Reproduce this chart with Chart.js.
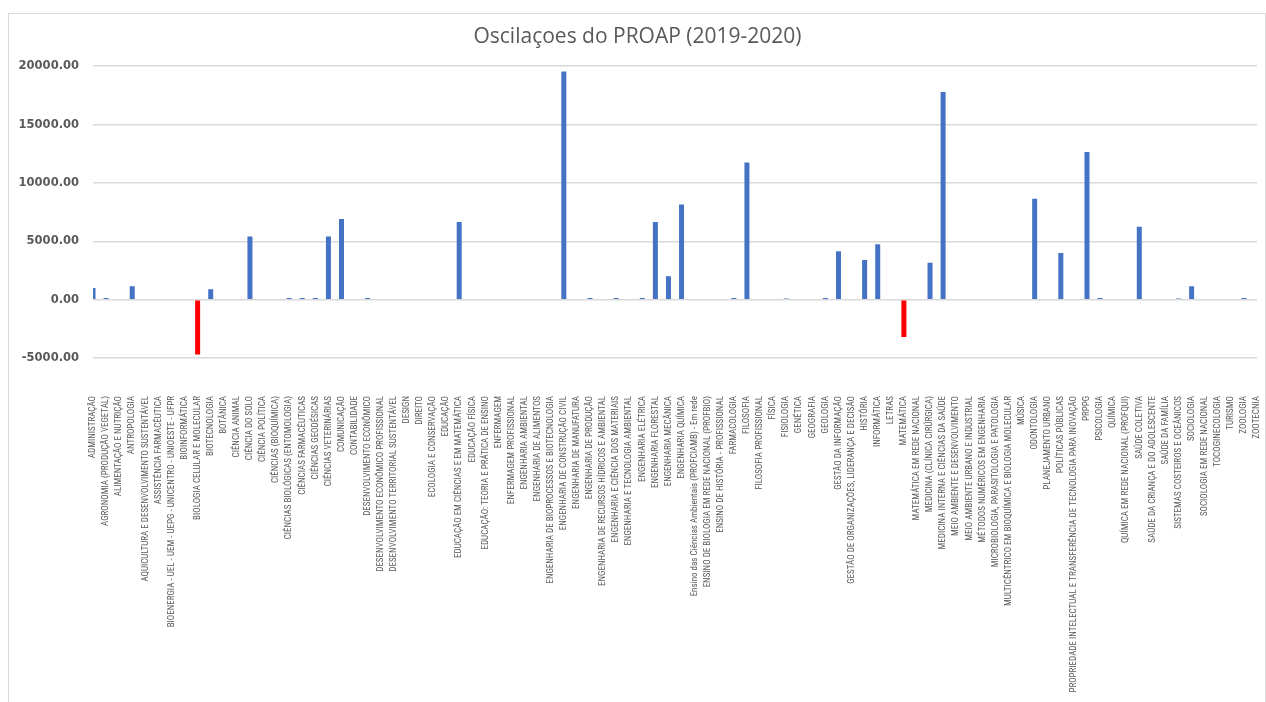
<!DOCTYPE html>
<html lang="pt">
<head>
    <meta charset="UTF-8">
    <title>Oscilaçoes do PROAP (2019-2020)</title>
    <script src="https://cdn.jsdelivr.net/npm/chart.js@4.4.1/dist/chart.umd.min.js"></script>
    <style>
        html, body { margin: 0; padding: 0; background: #fff; }
        .frame { position: absolute; left: 8px; top: 13px; width: 1256px; height: 700px; border: 1px solid #d9d9d9; }
        .container { position: absolute; left: 9px; top: 14px; width: 1255px; height: 688px; }
    </style>
</head>
<body>
<div class="frame"></div>
<div class="container">
    <canvas id="myChart"></canvas>
</div>
<script>
    var programas = [
        'ADMINISTRAÇÃO', 'AGRONOMIA (PRODUÇÃO VEGETAL)', 'ALIMENTAÇÃO E NUTRIÇÃO', 'ANTROPOLOGIA',
        'AQUICULTURA E DESENVOLVIMENTO SUSTENTÁVEL', 'ASSISTÊNCIA FARMACÊUTICA',
        'BIOENERGIA - UEL - UEM - UEPG - UNICENTRO - UNIOESTE - UFPR', 'BIOINFORMÁTICA',
        'BIOLOGIA CELULAR E MOLECULAR', 'BIOTECNOLOGIA', 'BOTÂNICA', 'CIÊNCIA ANIMAL', 'CIÊNCIA DO SOLO',
        'CIÊNCIA POLÍTICA', 'CIÊNCIAS (BIOQUÍMICA)', 'CIÊNCIAS BIOLÓGICAS (ENTOMOLOGIA)',
        'CIÊNCIAS FARMACÊUTICAS', 'CIÊNCIAS GEODÉSICAS', 'CIÊNCIAS VETERINÁRIAS', 'COMUNICAÇÃO',
        'CONTABILIDADE', 'DESENVOLVIMENTO ECONÔMICO', 'DESENVOLVIMENTO ECONÔMICO PROFISSIONAL',
        'DESENVOLVIMENTO TERRITORIAL SUSTENTÁVEL', 'DESIGN', 'DIREITO', 'ECOLOGIA E CONSERVAÇÃO',
        'EDUCAÇÃO', 'EDUCAÇÃO EM CIÊNCIAS E EM MATEMÁTICA', 'EDUCAÇÃO FÍSICA',
        'EDUCAÇÃO: TEORIA E PRÁTICA DE ENSINO', 'ENFERMAGEM', 'ENFERMAGEM PROFISSIONAL',
        'ENGENHARIA AMBIENTAL', 'ENGENHARIA DE ALIMENTOS', 'ENGENHARIA DE BIOPROCESSOS E BIOTECNOLOGIA',
        'ENGENHARIA DE CONSTRUÇÃO CIVIL', 'ENGENHARIA DE MANUFATURA', 'ENGENHARIA DE PRODUÇÃO',
        'ENGENHARIA DE RECURSOS HÍDRICOS E AMBIENTAL', 'ENGENHARIA E CIÊNCIA DOS MATERIAIS',
        'ENGENHARIA E TECNOLOGIA AMBIENTAL', 'ENGENHARIA ELÉTRICA', 'ENGENHARIA FLORESTAL',
        'ENGENHARIA MECÂNICA', 'ENGENHARIA QUÍMICA', 'Ensino das Ciências Ambientais (PROFCIAMB) - Em rede',
        'ENSINO DE BIOLOGIA EM REDE NACIONAL (PROFBIO)', 'ENSINO DE HISTÓRIA - PROFISSIONAL',
        'FARMACOLOGIA', 'FILOSOFIA', 'FILOSOFIA PROFISSIONAL', 'FÍSICA', 'FISIOLOGIA', 'GENÉTICA',
        'GEOGRAFIA', 'GEOLOGIA', 'GESTÃO DA INFORMAÇÃO', 'GESTÃO DE ORGANIZAÇÕES, LIDERANÇA E DECISÃO',
        'HISTÓRIA', 'INFORMÁTICA', 'LETRAS', 'MATEMÁTICA', 'MATEMÁTICA EM REDE NACIONAL',
        'MEDICINA (CLÍNICA CIRÚRGICA)', 'MEDICINA INTERNA E CIÊNCIAS DA SAÚDE',
        'MEIO AMBIENTE E DESENVOLVIMENTO', 'MEIO AMBIENTE URBANO E INDUSTRIAL',
        'MÉTODOS NUMÉRICOS EM ENGENHARIA', 'MICROBIOLOGIA, PARASITOLOGIA E PATOLOGIA',
        'MULTICÊNTRICO EM BIOQUÍMICA E BIOLOGIA MOLECULAR', 'MÚSICA', 'ODONTOLOGIA',
        'PLANEJAMENTO URBANO', 'POLÍTICAS PÚBLICAS',
        'PROPRIEDADE INTELECTUAL E TRANSFERÊNCIA DE TECNOLOGIA PARA INOVAÇÃO', 'PRPPG', 'PSICOLOGIA',
        'QUÍMICA', 'QUÍMICA EM REDE NACIONAL (PROFQUI)', 'SAÚDE COLETIVA',
        'SAÚDE DA CRIANÇA E DO ADOLESCENTE', 'SAÚDE DA FAMÍLIA', 'SISTEMAS COSTEIROS E OCEÂNICOS',
        'SOCIOLOGIA', 'SOCIOLOGIA EM REDE NACIONAL', 'TOCOGINECOLOGIA', 'TURISMO', 'ZOOLOGIA', 'ZOOTECNIA'
    ];

    // diferença 2019 -> 2020
    var oscilacao = [
        1000, 150, 0, 1150, 0, 0, 0, 0, -4700, 900,
        0, 0, 5400, 0, 0, 150, 150, 150, 5400, 6900,
        0, 150, 0, 0, 0, 0, 0, 0, 6650, 0,
        0, 0, 0, 0, 0, 0, 19550, 0, 150, 0,
        150, 0, 150, 6650, 2000, 8150, 0, 0, 0, 150,
        11750, 0, 0, 100, 0, 0, 150, 4150, 0, 3400,
        4750, 0, -3200, 0, 3150, 17800, 0, 0, 0, 0,
        0, 0, 8650, 0, 4000, 0, 12650, 150, 0, 0,
        6250, 0, 0, 100, 1150, 0, 0, 0, 150, 0
    ];

    var yMin = -5000, yMax = 20000, yStep = 5000;

    var cores = oscilacao.map(function (v) {
        return v < 0 ? '#ff0000' : '#4472c4';
    });

    var ctx = document.querySelector('#myChart').getContext('2d');
    new Chart(ctx, {
        type: 'bar',
        data: {
            labels: programas,
            datasets: [{
                label: 'Oscilação',
                data: oscilacao,
                backgroundColor: cores,
                borderWidth: 0,
                inflateAmount: 0,
                barThickness: 5
            }]
        },
        options: {
            responsive: true,
            maintainAspectRatio: false,
            animation: false,
            layout: { padding: { left: 9, right: 7, top: 0, bottom: 0 } },
            plugins: {
                legend: { display: false },
                tooltip: { enabled: false },
                title: {
                    display: true,
                    text: 'Oscilaçoes do PROAP (2019-2020)',
                    color: '#595959',
                    font: { family: "'Open Sans', sans-serif", size: 21, weight: 'normal' },
                    padding: { top: 10, bottom: 17 }
                }
            },
            scales: {
                x: {
                    offset: false,
                    grid: { display: false, drawTicks: false },
                    border: { display: false },
                    afterFit: function (scale) {
                        scale.height = 344;
                        scale.paddingLeft = 0;
                        scale.paddingRight = 0;
                    },
                    ticks: {
                        autoSkip: false,
                        minRotation: 90,
                        maxRotation: 90,
                        padding: 38,
                        color: '#595959',
                        font: { family: "'Liberation Sans Narrow', 'Roboto Condensed', Roboto, sans-serif", size: 9 }
                    }
                },
                y: {
                    min: yMin,
                    max: yMax,
                    afterFit: function (scale) { scale.width = 75; },
                    grid: { color: '#d9d9d9', lineWidth: 1.5, drawTicks: false },
                    border: { display: false },
                    ticks: {
                        stepSize: yStep,
                        padding: 14,
                        color: '#595959',
                        font: { family: "'DejaVu Sans', sans-serif", size: 11.5, weight: 'bold' },
                        callback: function (v) { return v.toFixed(2); }
                    }
                }
            }
        }
    });
</script>
</body>
</html>
